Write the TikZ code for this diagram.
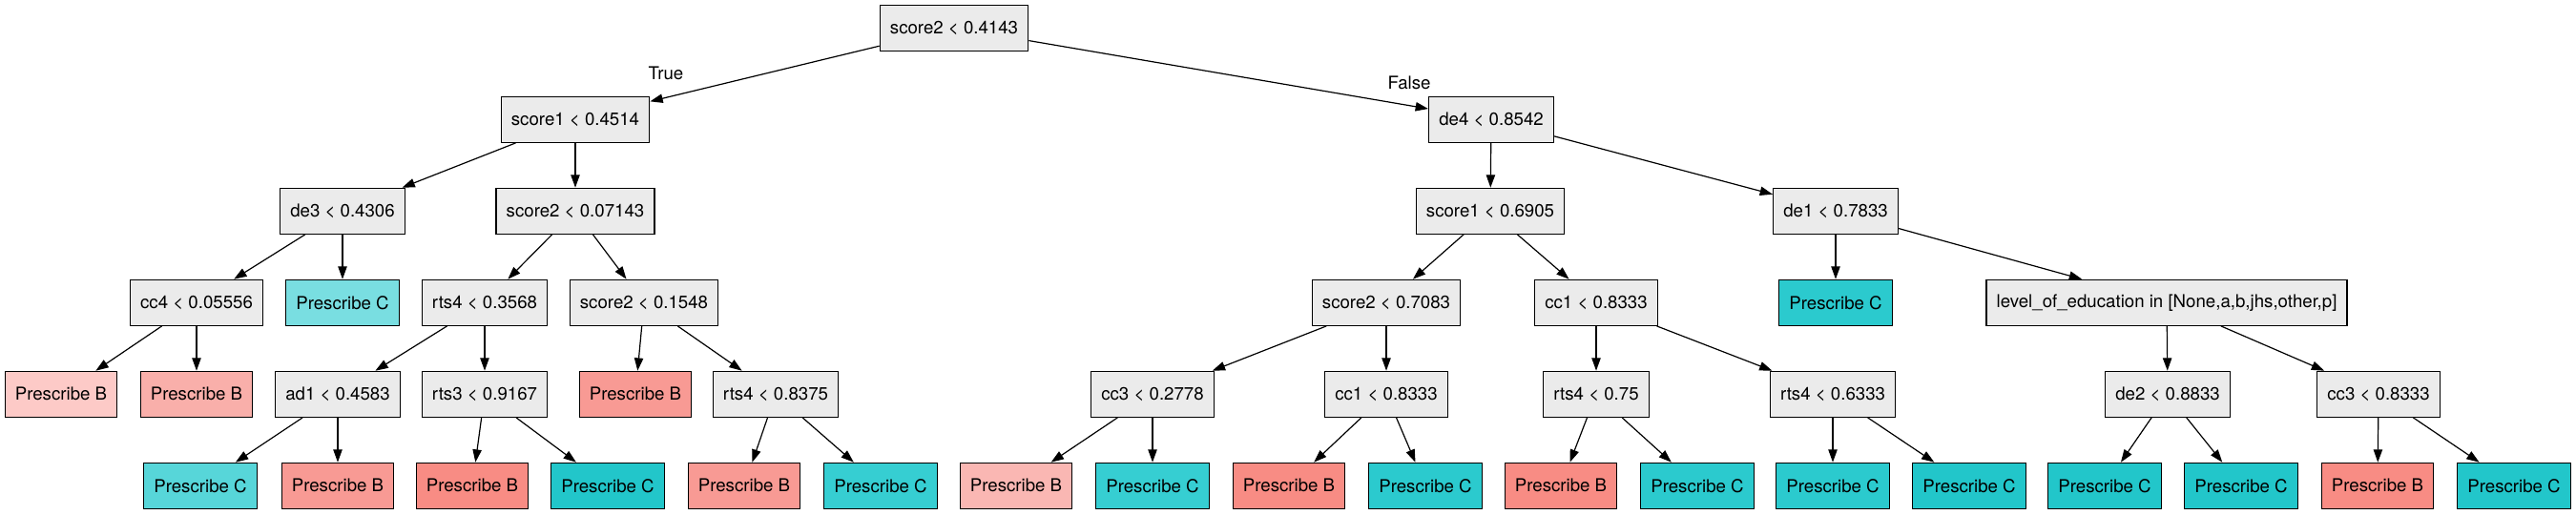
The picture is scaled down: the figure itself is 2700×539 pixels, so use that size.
\documentclass[tikz,border=0pt]{standalone}
\usepackage{fontspec}
\setmainfont{TeX Gyre Heros}
\usetikzlibrary{arrows.meta}
\definecolor{gfill}{HTML}{EBEBEB}
\definecolor{cLight}{HTML}{79DEE1}
\definecolor{cMid}{HTML}{57D6D9}
\definecolor{cDeep}{HTML}{22C6CA}
\definecolor{cAlmost}{HTML}{36CED2}
\definecolor{cNear}{HTML}{2BCACE}
\definecolor{bPale}{HTML}{FDCAC7}
\definecolor{bLight}{HTML}{F9AFAA}
\definecolor{bMid}{HTML}{F89A94}
\definecolor{bDeep}{HTML}{F88C84}
\definecolor{bSoft}{HTML}{FAB7B3}
\begin{document}
\begin{tikzpicture}[x=0.75pt,y=-0.75pt,
  box/.style={draw=black, line width=0.9pt, rectangle, inner xsep=8pt, inner ysep=4pt,
    minimum height=36pt, minimum width=54pt, font=\fontsize{14}{16}\selectfont},
  split/.style={box, fill=gfill},
  leafB/.style={box, fill=#1},
  leafC/.style={box, fill=#1},
  edge/.style={draw=black, line width=0.9pt, -{Triangle[length=10pt,width=7pt]}},
  elabel/.style={anchor=base, font=\fontsize{14}{16}\selectfont, inner sep=0pt}]
\useasboundingbox (0,0) rectangle (2700,539);
% rows
\def\rA{29.3}\def\rB{125.3}\def\rC{221.3}\def\rD{317.3}\def\rE{413.3}\def\rF{509.3}
% row 0
\node[split] (root) at (1000,\rA) {score2 < 0.4143};
% row 1
\node[split] (s1a) at (603,\rB) {score1 < 0.4514};
\node[split] (de4) at (1563,\rB) {de4 < 0.8542};
% row 2
\node[split] (de3) at (359,\rC) {de3 < 0.4306};
\node[split] (s2b) at (603,\rC) {score2 < 0.07143};
\node[split] (s1b) at (1562,\rC) {score1 < 0.6905};
\node[split] (de1) at (1924,\rC) {de1 < 0.7833};
% row 3
\node[split] (cc4) at (206,\rD) {cc4 < 0.05556};
\node[leafC=cLight] (lc1) at (359,\rD) {Prescribe C};
\node[split] (rts4a) at (508,\rD) {rts4 < 0.3568};
\node[split] (s2c) at (675,\rD) {score2 < 0.1548};
\node[split] (s2d) at (1453,\rD) {score2 < 0.7083};
\node[split] (cc1a) at (1673,\rD) {cc1 < 0.8333};
\node[leafC=cNear] (lc2) at (1924,\rD) {Prescribe C};
\node[split] (loe) at (2271,\rD) {level\_of\_education in [None,a,b,jhs,other,p]};
% row 4
\node[leafB=bPale] (lb1) at (64,\rE) {Prescribe B};
\node[leafB=bLight] (lb2) at (206,\rE) {Prescribe B};
\node[split] (ad1) at (354,\rE) {ad1 < 0.4583};
\node[split] (rts3) at (508,\rE) {rts3 < 0.9167};
\node[leafB=bMid] (lb3) at (666,\rE) {Prescribe B};
\node[split] (rts4b) at (813,\rE) {rts4 < 0.8375};
\node[split] (cc3a) at (1208,\rE) {cc3 < 0.2778};
\node[split] (cc1b) at (1453,\rE) {cc1 < 0.8333};
\node[split] (rts4c) at (1673,\rE) {rts4 < 0.75};
\node[split] (rts4d) at (1921,\rE) {rts4 < 0.6333};
\node[split] (de2) at (2272,\rE) {de2 < 0.8833};
\node[split] (cc3b) at (2493,\rE) {cc3 < 0.8333};
% row 5
\node[leafC=cMid] (f1) at (210,\rF) {Prescribe C};
\node[leafB=bMid] (f2) at (354,\rF) {Prescribe B};
\node[leafB=bDeep] (f3) at (495,\rF) {Prescribe B};
\node[leafC=cDeep] (f4) at (637,\rF) {Prescribe C};
\node[leafB=bMid] (f5) at (780,\rF) {Prescribe B};
\node[leafC=cAlmost] (f6) at (923,\rF) {Prescribe C};
\node[leafB=bSoft] (f7) at (1065,\rF) {Prescribe B};
\node[leafC=cAlmost] (f8) at (1208,\rF) {Prescribe C};
\node[leafB=bDeep] (f9) at (1351,\rF) {Prescribe B};
\node[leafC=cNear] (f10) at (1494,\rF) {Prescribe C};
\node[leafB=bDeep] (f11) at (1636,\rF) {Prescribe B};
\node[leafC=cNear] (f12) at (1779,\rF) {Prescribe C};
\node[leafC=cNear] (f13) at (1921,\rF) {Prescribe C};
\node[leafC=cDeep] (f14) at (2064,\rF) {Prescribe C};
\node[leafC=cDeep] (f15) at (2206,\rF) {Prescribe C};
\node[leafC=cDeep] (f16) at (2349,\rF) {Prescribe C};
\node[leafB=bDeep] (f17) at (2492,\rF) {Prescribe B};
\node[leafC=cDeep] (f18) at (2635,\rF) {Prescribe C};
% edges
\draw[edge] (root) -- (s1a);
\draw[edge] (root) -- (de4);
\draw[edge] (s1a) -- (de3);
\draw[edge] (s1a) -- (s2b);
\draw[edge] (de4) -- (s1b);
\draw[edge] (de4) -- (de1);
\draw[edge] (de3) -- (cc4);
\draw[edge] (de3) -- (lc1);
\draw[edge] (s2b) -- (rts4a);
\draw[edge] (s2b) -- (s2c);
\draw[edge] (s1b) -- (s2d);
\draw[edge] (s1b) -- (cc1a);
\draw[edge] (de1) -- (lc2);
\draw[edge] (de1) -- (loe);
\draw[edge] (cc4) -- (lb1);
\draw[edge] (cc4) -- (lb2);
\draw[edge] (rts4a) -- (ad1);
\draw[edge] (rts4a) -- (rts3);
\draw[edge] (s2c) -- (lb3);
\draw[edge] (s2c) -- (rts4b);
\draw[edge] (s2d) -- (cc3a);
\draw[edge] (s2d) -- (cc1b);
\draw[edge] (cc1a) -- (rts4c);
\draw[edge] (cc1a) -- (rts4d);
\draw[edge] (loe) -- (de2);
\draw[edge] (loe) -- (cc3b);
\draw[edge] (ad1) -- (f1);
\draw[edge] (ad1) -- (f2);
\draw[edge] (rts3) -- (f3);
\draw[edge] (rts3) -- (f4);
\draw[edge] (rts4b) -- (f5);
\draw[edge] (rts4b) -- (f6);
\draw[edge] (cc3a) -- (f7);
\draw[edge] (cc3a) -- (f8);
\draw[edge] (cc1b) -- (f9);
\draw[edge] (cc1b) -- (f10);
\draw[edge] (rts4c) -- (f11);
\draw[edge] (rts4c) -- (f12);
\draw[edge] (rts4d) -- (f13);
\draw[edge] (rts4d) -- (f14);
\draw[edge] (de2) -- (f15);
\draw[edge] (de2) -- (f16);
\draw[edge] (cc3b) -- (f17);
\draw[edge] (cc3b) -- (f18);
% edge labels
\node[elabel] (tlab) at (698,83.3) {True};
\node[elabel] (flab) at (1477,93.3) {False};
\end{tikzpicture}
\end{document}
